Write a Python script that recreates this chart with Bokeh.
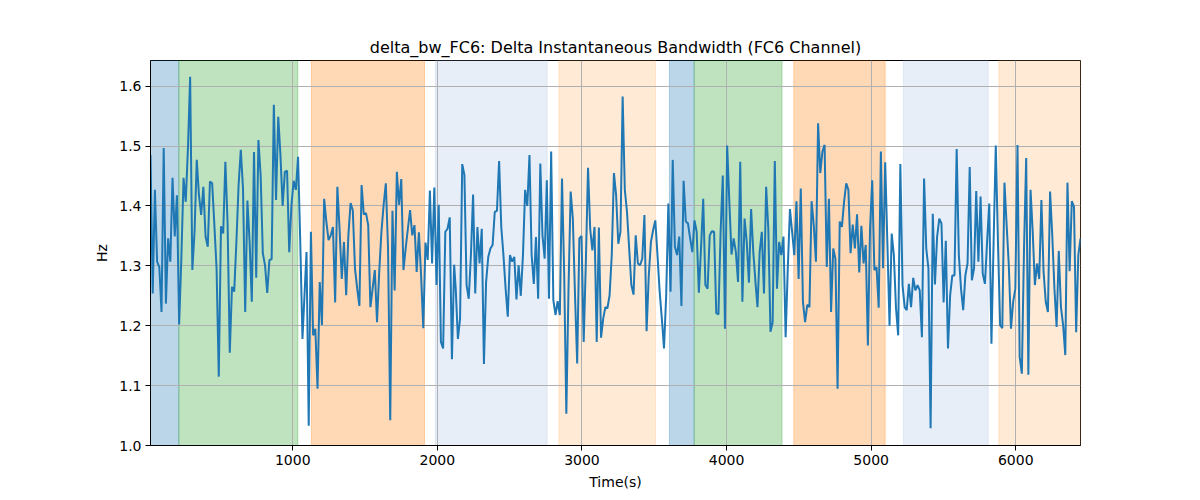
import numpy as np

from bokeh.plotting import figure
from bokeh.models import FixedTicker, Range1d, PrintfTickFormatter
from bokeh.embed import file_html
from bokeh.resources import INLINE

############ DATA ######################################

# the line was read in six stretches, each with its first/last time
seg_start = [16, 1095, 2127, 3176, 4214, 5246]
seg_end = [1067, 2116, 3162, 4200, 5232, 6448]

seg1 = [1.485, 1.254, 1.427, 1.307, 1.298, 1.223, 1.497, 1.237, 1.346, 1.307,
        1.447, 1.349, 1.418, 1.202, 1.312, 1.447, 1.407, 1.496, 1.616, 1.293,
        1.357, 1.477, 1.418, 1.385, 1.432, 1.349, 1.332, 1.441, 1.438, 1.368,
        1.296, 1.115, 1.366, 1.354, 1.474, 1.371, 1.155, 1.265, 1.257, 1.340,
        1.435, 1.494, 1.429, 1.223, 1.409, 1.340, 1.240, 1.490, 1.280, 1.510,
        1.452, 1.321, 1.301, 1.255, 1.310, 1.311, 1.569, 1.410, 1.549, 1.485,
        1.400, 1.457, 1.459, 1.323, 1.402, 1.442, 1.427, 1.482, 1.340, 1.178]

seg2 = [1.323, 1.033, 1.357, 1.184, 1.195, 1.095, 1.273, 1.201, 1.412, 1.374,
        1.343, 1.351, 1.365, 1.239, 1.432, 1.362, 1.278, 1.340, 1.251, 1.351,
        1.405, 1.393, 1.296, 1.262, 1.233, 1.435, 1.386, 1.388, 1.368, 1.231,
        1.262, 1.293, 1.206, 1.290, 1.357, 1.402, 1.438, 1.329, 1.042, 1.392,
        1.259, 1.457, 1.402, 1.445, 1.293, 1.329, 1.362, 1.393, 1.351, 1.368,
        1.290, 1.356, 1.284, 1.196, 1.339, 1.310, 1.426, 1.304, 1.431, 1.268,
        1.402, 1.173, 1.162, 1.357, 1.362, 1.381, 1.144, 1.302]

seg3 = [1.262, 1.178, 1.212, 1.470, 1.452, 1.268, 1.245, 1.318, 1.419, 1.254,
        1.365, 1.304, 1.362, 1.136, 1.273, 1.315, 1.329, 1.335, 1.390, 1.392,
        1.475, 1.365, 1.318, 1.262, 1.215, 1.318, 1.307, 1.315, 1.244, 1.301,
        1.250, 1.318, 1.427, 1.400, 1.485, 1.318, 1.270, 1.348, 1.245, 1.471,
        1.351, 1.312, 1.443, 1.245, 1.491, 1.243, 1.218, 1.241, 1.218, 1.446,
        1.289, 1.053, 1.262, 1.424, 1.379, 1.251, 1.137, 1.346, 1.350, 1.173,
        1.307, 1.464, 1.362, 1.326, 1.365, 1.173, 1.364, 1.180, 1.212, 1.231]

seg4 = [1.229, 1.251, 1.318, 1.455, 1.418, 1.337, 1.357, 1.583, 1.427, 1.390,
        1.329, 1.268, 1.252, 1.351, 1.304, 1.301, 1.312, 1.385, 1.191, 1.284,
        1.340, 1.360, 1.376, 1.318, 1.257, 1.212, 1.162, 1.251, 1.404, 1.257,
        1.477, 1.332, 1.318, 1.349, 1.233, 1.442, 1.374, 1.371, 1.346, 1.323,
        1.376, 1.357, 1.255, 1.329, 1.412, 1.268, 1.262, 1.351, 1.358, 1.357,
        1.221, 1.219, 1.357, 1.451, 1.195, 1.501, 1.407, 1.319, 1.346, 1.323,
        1.273, 1.474, 1.240, 1.379, 1.340, 1.272, 1.395, 1.323, 1.273]

seg5 = [1.231, 1.323, 1.357, 1.254, 1.432, 1.362, 1.190, 1.206, 1.475, 1.262,
        1.340, 1.318, 1.349, 1.181, 1.296, 1.395, 1.357, 1.318, 1.408, 1.278,
        1.429, 1.240, 1.206, 1.235, 1.231, 1.408, 1.368, 1.307, 1.538, 1.455,
        1.491, 1.502, 1.298, 1.412, 1.223, 1.329, 1.312, 1.095, 1.374, 1.365,
        1.407, 1.438, 1.427, 1.321, 1.369, 1.329, 1.386, 1.289, 1.367, 1.304,
        1.335, 1.167, 1.362, 1.443, 1.293, 1.298, 1.230, 1.491, 1.296, 1.473,
        1.340, 1.200, 1.354, 1.318, 1.229, 1.184, 1.470, 1.268, 1.231]

seg6 = [1.226, 1.270, 1.231, 1.280, 1.259, 1.268, 1.259, 1.181, 1.446, 1.329,
        1.296, 1.029, 1.387, 1.269, 1.349, 1.379, 1.371, 1.239, 1.342, 1.162,
        1.251, 1.284, 1.284, 1.495, 1.318, 1.262, 1.226, 1.284, 1.304, 1.465,
        1.276, 1.296, 1.425, 1.307, 1.416, 1.287, 1.270, 1.340, 1.404, 1.170,
        1.340, 1.501, 1.340, 1.201, 1.196, 1.439, 1.368, 1.301, 1.195, 1.240,
        1.262, 1.502, 1.148, 1.120, 1.329, 1.480, 1.118, 1.427, 1.357, 1.268,
        1.304, 1.278, 1.410, 1.290, 1.240, 1.223, 1.424, 1.351, 1.262, 1.198,
        1.325, 1.231, 1.201, 1.151, 1.439, 1.291, 1.408, 1.399, 1.189, 1.318,
        1.346]

# shaded phases
span_start = [16, 212, 1129, 1987, 2840, 3605, 3776, 4465, 5223, 5883]
span_end = [212, 1035, 1911, 2759, 3509, 3776, 4384, 5097, 5809, 6448]
span_color = ["#1f77b4", "#2ca02c", "#ff7f0e", "#aec7e8", "#ffbb78",
              "#1f77b4", "#2ca02c", "#ff7f0e", "#aec7e8", "#ffbb78"]

x_ticks = [1000, 2000, 3000, 4000, 5000, 6000]
y_ticks = [1.0, 1.1, 1.2, 1.3, 1.4, 1.5, 1.6]

segs = [seg1, seg2, seg3, seg4, seg5, seg6]
t = np.concatenate([np.linspace(a, b, len(s)) for a, b, s in zip(seg_start, seg_end, segs)])
hz = np.concatenate(segs)

############ PLOT #############

FONT = "DejaVu Sans"

p = figure(frame_width=930, frame_height=385,
           min_border_left=150, min_border_right=104,
           min_border_top=60, min_border_bottom=40,
           x_range=Range1d(16, 6448), y_range=Range1d(1.0, 1.643),
           title="delta_bw_FC6: Delta Instantaneous Bandwidth (FC6 Channel)",
           x_axis_label="Time(s)", y_axis_label="Hz",
           output_backend="svg", toolbar_location=None)

p.quad(left=span_start, right=span_end, bottom=0, top=2,
       fill_color=span_color, fill_alpha=0.3,
       line_color=span_color, line_alpha=0.3, line_width=1, level="image")

p.line(t, hz, line_color="#1f77b4", line_width=2)

p.title.text_font = FONT
p.title.text_font_size = "16px"
p.title.text_font_style = "normal"
p.title.text_color = "black"
p.title.align = "center"
p.title.standoff = 7

p.xaxis.ticker = FixedTicker(ticks=x_ticks)
p.yaxis.ticker = FixedTicker(ticks=y_ticks)
p.yaxis.formatter = PrintfTickFormatter(format="%.1f")
for ax in (p.xaxis, p.yaxis):
    ax.major_label_text_font = FONT
    ax.major_label_text_font_size = "14px"
    ax.major_label_text_color = "black"
    ax.axis_label_text_font = FONT
    ax.axis_label_text_font_size = "14px"
    ax.axis_label_text_font_style = "normal"
    ax.axis_label_text_color = "black"
    ax.axis_line_color = "black"
    ax.major_tick_line_color = "black"
    ax.major_tick_out = 5
    ax.major_tick_in = 0
    ax.minor_tick_line_color = None
    ax.major_label_standoff = 4
    ax.axis_label_standoff = 6

p.grid.grid_line_color = "#b0b0b0"
p.grid.grid_line_width = 1
p.outline_line_color = "black"
p.outline_line_width = 1
p.outline_line_alpha = 1

open("out.html", "w").write(file_html(p, INLINE))
